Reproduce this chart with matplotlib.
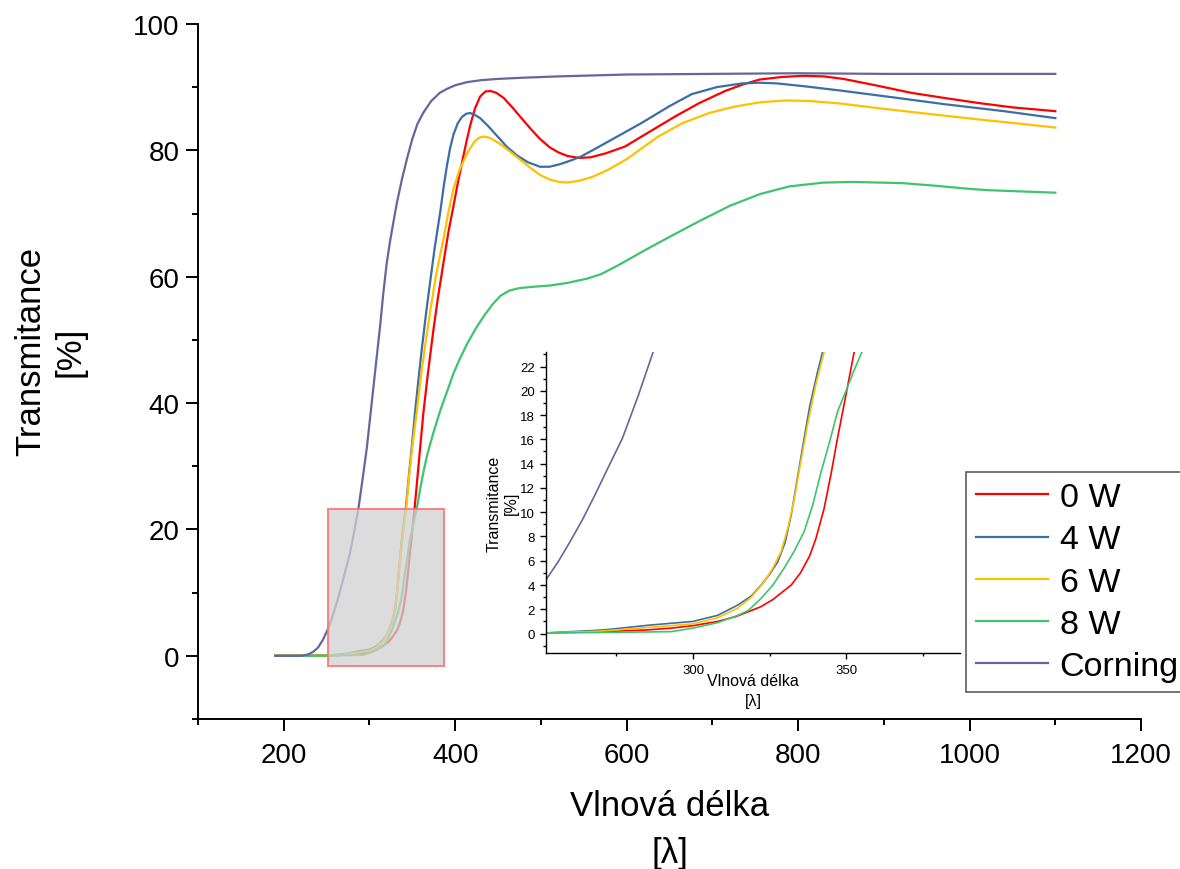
import matplotlib
matplotlib.use('Agg')
import matplotlib.pyplot as plt
from matplotlib.patches import Rectangle
from matplotlib.ticker import MultipleLocator

plt.rcParams['font.family'] = ['Liberation Sans', 'DejaVu Sans']

# --- data (wavelength, transmittance %) ---
series_labels = ['0 W', '4 W', '6 W', '8 W', 'Corning']
series_colors = ['#ff0000', '#3b6ea5', '#ffc000', '#3ec46d', '#66669d']

wl_0w = [190, 230, 252, 270, 285, 293, 300, 308, 314, 318, 322, 326, 329, 332, 335, 338, 340,
         342.7, 345, 347, 349, 350, 352.5, 355, 358, 363, 368, 374.7, 380, 386.4, 392, 398, 403,
         408, 413, 417.6, 423, 429, 435, 441, 448, 456.5, 466, 476, 488, 499, 510, 520, 531, 545,
         558, 575, 598, 625, 657, 685, 715, 735, 755, 780, 806, 830, 853, 890, 932, 970, 1010,
         1050, 1100]
tr_0w = [0, 0, 0.05, 0.15, 0.3, 0.45, 0.65, 1.0, 1.4, 1.8, 2.2, 2.8, 3.4, 4.0, 5.0, 6.4, 7.8,
         10.3, 13.2, 16, 18.6, 19.9, 23.2, 26.8, 31.3, 38.6, 44.5, 51.7, 56.8, 62.3, 67, 71.2, 74.8,
         78.1, 81.3, 84.0, 86.6, 88.5, 89.3, 89.4, 89.1, 88.3, 86.9, 85.3, 83.4, 81.8, 80.5, 79.7, 79.1, 78.8,
         78.9, 79.5, 80.6, 82.8, 85.4, 87.5, 89.4, 90.4, 91.2, 91.6, 91.8, 91.7, 91.3, 90.3, 89.1, 88.3, 87.5,
         86.8, 86.2]

wl_4w = [190, 230, 252, 271, 286, 300, 308, 314.6, 319, 322.2, 325, 327.6, 330, 332, 334, 336.2,
         338, 340.6, 342.2, 346, 350, 353.5, 357.2, 361, 366, 370.9, 376, 382.5, 386.5, 390.4, 394,
         398, 403, 408, 413, 417.6, 423, 429, 438, 448.7, 460, 472, 485, 499, 510, 522, 535, 546.5,
         560, 580, 617, 650, 676, 705, 735, 755, 775, 810, 853, 910, 971, 1040, 1100]
tr_4w = [0, 0, 0.05, 0.3, 0.7, 1.0, 1.5, 2.35, 3.1, 4.0, 4.9, 5.9, 7.5, 9.8, 12.8, 16.1,
         18.7, 21.6, 23.2, 28.5, 34, 39, 43.8, 48.5, 54.2, 59.3, 64.5, 70.2, 74.2, 77.6, 80.3,
         82.5, 84.3, 85.3, 85.8, 85.9, 85.6, 85.1, 83.9, 82.3, 80.6, 79.2, 78.1, 77.4, 77.4, 77.8, 78.4, 79,
         80, 81.5, 84.3, 87, 88.9, 90, 90.6, 90.7, 90.6, 90.1, 89.4, 88.4, 87.3, 86.2, 85.1]

wl_6w = [190, 230, 252, 270, 285, 300, 308, 314.6, 319, 323.3, 326, 328.7, 331, 333, 335, 337.3,
         340, 342.7, 346, 350, 355.3, 360, 365, 370.9, 378, 386.4, 392, 398, 405, 413.7, 422, 428,
         433, 440, 452.6, 464, 476, 488, 499, 510, 521, 531, 545, 560, 578, 600, 637, 665, 696,
         725, 755, 785, 814, 850, 892, 950, 1010, 1060, 1100]
tr_6w = [0, 0, 0.05, 0.2, 0.5, 0.8, 1.3, 2.1, 3.0, 4.3, 5.4, 6.75, 8.8, 11.1, 14, 17.2,
         20.5, 23.2, 28.1, 33.2, 38.8, 44.2, 49.2, 54.6, 60.5, 66, 70.2, 73.9, 76.9, 79.5, 81.3, 82,
         82.2, 82.0, 81, 79.8, 78.5, 77.2, 76.1, 75.4, 75.0, 74.9, 75.2, 75.8, 76.9, 78.6, 82.2, 84.3, 85.9,
         86.9, 87.6, 87.9, 87.8, 87.4, 86.7, 85.8, 84.9, 84.2, 83.6]

wl_8w = [190, 230, 252, 275, 293, 300, 308, 314.6, 318, 322.2, 326, 329.7, 333, 336.2, 339, 341.7,
         344.5, 347.1, 350, 352.5, 355.2, 359, 363, 367, 371, 375, 383, 391, 398, 405, 414, 424,
         434, 444, 453, 463, 475, 490, 510, 530, 554, 570, 590, 624, 650, 682, 720, 756, 790, 830,
         864, 895, 923, 960, 1000, 1021, 1060, 1100]
tr_8w = [0, 0, 0.05, 0.1, 0.16, 0.45, 0.9, 1.5, 1.9, 2.9, 4.0, 5.4, 6.8, 8.4, 10.6, 13.3,
         15.8, 18.3, 20.1, 21.7, 23.3, 26.3, 29.1, 31.6, 33.6, 35.5, 39.0, 42.0, 44.7, 46.9, 49.4, 51.8,
         53.9, 55.7, 57, 57.8, 58.2, 58.4, 58.6, 59, 59.7, 60.4, 61.8, 64.4, 66.3, 68.6, 71.2, 73.1, 74.3, 74.9,
         75.0, 74.9, 74.8, 74.4, 73.9, 73.7, 73.5, 73.3]

wl_corning = [190, 220, 228, 234, 240, 246, 252, 256, 260, 264, 268, 272, 277, 282, 287, 292, 297,
              301, 305, 309, 312.5, 316, 320, 324, 328, 332, 338, 344, 350, 356, 363, 372, 382, 390,
              400, 414, 430, 449, 480, 520, 600, 700, 800, 900, 1000, 1100]
tr_corning = [0, 0, 0.2, 0.6, 1.3, 2.6, 4.4, 5.9, 7.6, 9.4, 11.4, 13.5, 16.1, 19.5, 23.2, 28, 33,
              38, 43, 48, 52.3, 57.2, 62, 65.6, 68.7, 71.7, 75.5, 78.8, 81.8, 84.2, 86, 87.8, 89.1, 89.7,
              90.3, 90.8, 91.1, 91.3, 91.5, 91.7, 92.0, 92.1, 92.2, 92.1, 92.1, 92.1]

all_wl = [wl_0w, wl_4w, wl_6w, wl_8w, wl_corning]
all_tr = [tr_0w, tr_4w, tr_6w, tr_8w, tr_corning]

# zoom window shown in the inset
zoom_x = (252, 387)
zoom_y = (-1.6, 23.2)


def style_axes(ax, tick_size, major_len, minor_len, width):
    ax.spines['top'].set_visible(False)
    ax.spines['right'].set_visible(False)
    for s in ('left', 'bottom'):
        ax.spines[s].set_linewidth(width)
    ax.tick_params(which='major', direction='out', length=major_len, width=width,
                   labelsize=tick_size)
    ax.tick_params(which='minor', direction='out', length=minor_len, width=width)


fig = plt.figure(figsize=(11.8, 8.7), dpi=100)
ax = fig.add_axes([0.1678, 0.1724, 0.7992, 0.7989])

for wl, tr, lab, col in zip(all_wl, all_tr, series_labels, series_colors):
    ax.plot(wl, tr, color=col, lw=1.6, label=lab)

ax.set_xlim(100, 1200)
ax.set_ylim(-10, 100)
ax.xaxis.set_major_locator(MultipleLocator(200))
ax.xaxis.set_minor_locator(MultipleLocator(100))
ax.yaxis.set_minor_locator(MultipleLocator(10))
ax.set_yticks([0, 20, 40, 60, 80, 100])
style_axes(ax, 20, 8.5, 4.5, 1.4)
ax.tick_params(axis='x', which='major', pad=8)
ax.tick_params(axis='y', which='major', pad=5)

ax.set_xlabel('Vlnová délka\n[λ]', fontsize=25, linespacing=1.55)
ax.xaxis.set_label_coords(0.5, -0.1)
ax.set_ylabel('Transmitance\n[%]', fontsize=25, linespacing=1.25)
ax.yaxis.set_label_coords(-0.118, 0.53)

# grey zoom rectangle over the main plot
ax.add_patch(Rectangle((zoom_x[0], zoom_y[0]), zoom_x[1] - zoom_x[0], zoom_y[1] - zoom_y[0],
                       facecolor=(0.82, 0.82, 0.82, 0.75), edgecolor=(1, 0.45, 0.45, 0.9),
                       lw=1.4, zorder=5))

leg = ax.legend(loc='upper left', bbox_to_anchor=(0.8186, 0.4563),
                bbox_transform=fig.transFigure, fontsize=24.5, frameon=True, fancybox=False,
                borderaxespad=0, borderpad=0.3, labelspacing=0.33, handlelength=2.1,
                handletextpad=0.35)
leg.get_frame().set_edgecolor('#333333')
leg.get_frame().set_linewidth(1.2)
leg.set_zorder(20)

# inset
axin = fig.add_axes([0.4625, 0.2483, 0.3511, 0.3460])
axin.set_facecolor('white')
for wl, tr, col in zip(all_wl, all_tr, series_colors):
    axin.plot(wl, tr, color=col, lw=1.2)
axin.set_xlim(*zoom_x)
axin.set_ylim(*zoom_y)
axin.xaxis.set_major_locator(MultipleLocator(50))
axin.xaxis.set_minor_locator(MultipleLocator(25))
axin.yaxis.set_major_locator(MultipleLocator(2))
axin.yaxis.set_minor_locator(MultipleLocator(1))
style_axes(axin, 9.5, 4.5, 2.5, 1.0)
axin.set_xlabel('Vlnová délka\n[λ]', fontsize=11.5, linespacing=1.45)
axin.xaxis.set_label_coords(0.5, -0.065)
axin.set_ylabel('Transmitance\n[%]', fontsize=11.5, linespacing=1.2)
axin.yaxis.set_label_coords(-0.065, 0.5)

fig.savefig('out.png', dpi=100)
